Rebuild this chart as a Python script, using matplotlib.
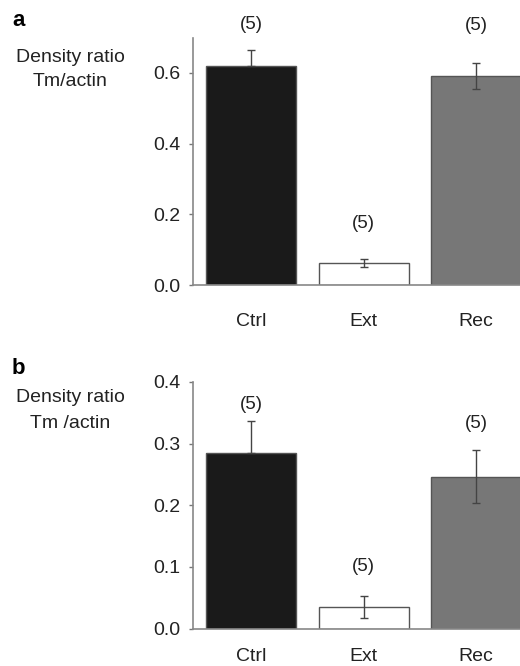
import matplotlib.pyplot as plt

plt.rcParams["font.family"] = ["Liberation Sans", "DejaVu Sans"]

# Data
groups = ["Ctrl", "Ext", "Rec"]
n_per_group = ["(5)", "(5)", "(5)"]

ratio_a = [0.62, 0.062, 0.592]
err_a = [0.045, 0.011, 0.037]

ratio_b = [0.285, 0.035, 0.246]
err_b = [0.052, 0.018, 0.043]

bar_colors = ["#1a1a1a", "#ffffff", "#777777"]

W, H = 520, 666
fig = plt.figure(figsize=(W / 100, H / 100), dpi=100)


def px_box(left, top, right, bottom):
    # convert pixel box (from top-left) into figure fraction rect
    return [left / W, 1 - bottom / H, (right - left) / W, (bottom - top) / H]


def draw_panel(ax, vals, errs, ylim, yticks, label_pad, n_offsets):
    x = list(range(len(groups)))
    ax.bar(x, vals, width=0.8, color=bar_colors, edgecolor="#555555",
           linewidth=1.0, zorder=2)
    for xi, v, e, c in zip(x, vals, errs, bar_colors):
        # lower half of the bar on the black column is not visible
        lower = 0 if c == "#1a1a1a" else e
        ax.errorbar(xi, v, yerr=[[lower], [e]], fmt="none", ecolor="#444444",
                    elinewidth=1.0, capsize=3, capthick=1.0, zorder=3)
    for xi, v, e, lab, off in zip(x, vals, errs, n_per_group, n_offsets):
        ax.annotate(lab, (xi, v + e), xytext=(0, off), textcoords="offset points",
                    ha="center", va="center", fontsize=13.5, color="#222222",
                    annotation_clip=False)
    ax.set_xlim(-0.515, 2.39)
    ax.set_ylim(*ylim)
    ax.set_yticks(yticks)
    ax.set_yticklabels([f"{t:.1f}" for t in yticks])
    ax.set_xticks(x)
    ax.set_xticklabels(groups)
    ax.tick_params(axis="x", length=0, pad=label_pad, labelsize=14,
                   labelcolor="#222222")
    ax.tick_params(axis="y", length=3, width=1, pad=6, labelsize=14,
                   color="#777777", labelcolor="#222222")
    for side in ["top", "right"]:
        ax.spines[side].set_visible(False)
    for side in ["left", "bottom"]:
        ax.spines[side].set_color("#888888")
        ax.spines[side].set_linewidth(1.2)


ax_a = fig.add_axes(px_box(193.3, 37.5, 520, 285))
draw_panel(ax_a, ratio_a, err_a, (0, 0.7), [0.0, 0.2, 0.4, 0.6], 20,
           [18, 26, 27])

ax_b = fig.add_axes(px_box(193.3, 381.8, 520, 628.7))
draw_panel(ax_b, ratio_b, err_b, (0, 0.4), [0.0, 0.1, 0.2, 0.3, 0.4], 14,
           [12, 21, 19])

# panel letters and y-axis titles
fig.text(12 / W, 1 - 21 / H, "a", fontsize=16, fontweight="bold", va="center")
fig.text(70 / W, 1 - 58 / H, "Density ratio", fontsize=14, ha="center",
         va="center", color="#222222")
fig.text(70 / W, 1 - 82 / H, "Tm/actin", fontsize=14, ha="center",
         va="center", color="#222222")

fig.text(12 / W, 1 - 368 / H, "b", fontsize=16, fontweight="bold", va="center")
fig.text(70 / W, 1 - 398 / H, "Density ratio", fontsize=14, ha="center",
         va="center", color="#222222")
fig.text(70 / W, 1 - 423 / H, "Tm /actin", fontsize=14, ha="center",
         va="center", color="#222222")

fig.savefig("out.png", dpi=100)
